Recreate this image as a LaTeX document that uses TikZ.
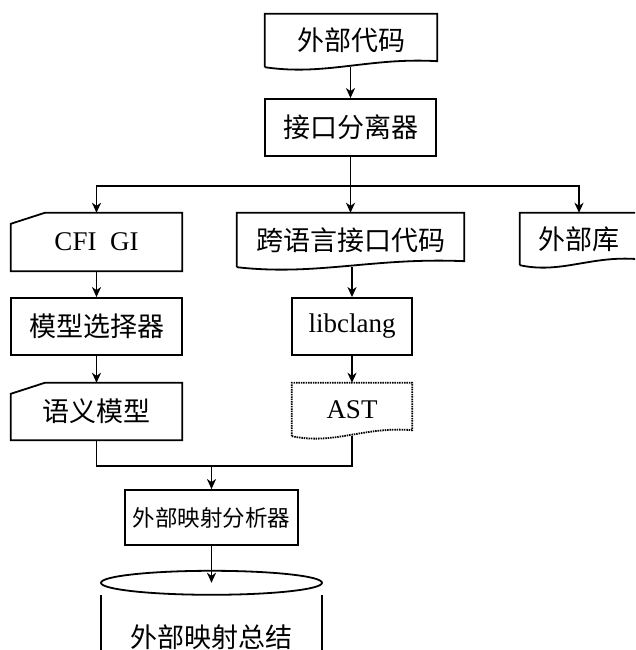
\documentclass[tikz,border=0pt]{standalone}
\usepackage{fontspec}
\setmainfont{Liberation Serif}
\newfontfamily\cjk{Noto Sans CJK SC}
\usetikzlibrary{arrows.meta,calc}
\tikzset{
  box/.style={inner sep=0pt, font=\fontsize{27}{32}\selectfont},
  ln/.style={line width=1.8pt},
  arr/.style={ln, -{Stealth[length=10pt,width=9pt,inset=3pt]}}
}
\newcommand\docshape[2][]{%
  \draw[ln,#1] let \p1=(#2.south west), \p2=(#2.north east) in
    (\p1) -- (\x1,\y2) -- (\p2) -- (\x2,{\y1+6pt})
    .. controls ({\x1+0.6*(\x2-\x1)},{\y1+10pt}) and ({\x1+0.35*(\x2-\x1)},{\y1-9pt}) .. (\p1);}
\newcommand\manualshape[1]{%
  \draw[ln] let \p1=(#1.south west), \p2=(#1.north east) in
    (\p1) -- (\x1,{\y2-11pt}) -- ({\x1+34pt},\y2) -- (\p2) -- (\x2,\y1) -- cycle;}
\begin{document}
\begin{tikzpicture}[x=1pt,y=1pt]
\useasboundingbox (0,0) rectangle (635,650);
\clip (0,0) rectangle (635,650);
% nodes
\node[box, minimum width=172pt, minimum height=53pt] (code) at (351,609.5) {\cjk 外部代码};
\node[box, minimum width=171pt, minimum height=57pt, draw, ln] (sep) at (350.5,522.5) {\cjk 接口分离器};
\node[box, minimum width=171pt, minimum height=58pt] (cfi) at (96.5,408) {CFI\ \ GI};
\node[box, minimum width=227pt, minimum height=54pt] (cross) at (350.5,410) {\cjk 跨语言接口代码};
\node[box, minimum width=118pt, minimum height=52pt] (lib) at (579,411) {\cjk 外部库};
\node[box, minimum width=171pt, minimum height=57pt, draw, ln] (sel) at (96.5,323.5) {\cjk 模型选择器};
\node[box, minimum width=120pt, minimum height=57pt, draw, ln] (libclang) at (352,323.5) {libclang};
\node[box, minimum width=171pt, minimum height=57pt] (sem) at (96.5,238.5) {\cjk 语义模型};
\node[box, minimum width=120pt, minimum height=53pt] (ast) at (352,240.5) {AST};
\node[box, minimum width=173pt, minimum height=55pt, draw, ln, font=\fontsize{22.5}{27}\selectfont] (ana) at (211.5,132.5) {\cjk 外部映射分析器};
\node[box, minimum width=221pt, minimum height=108pt] (sum) at (211.5,13) {\cjk 外部映射总结};
% shapes
\docshape{code}
\docshape{cross}
\docshape{lib}
\docshape[dash pattern=on 1.5pt off 0.9pt]{ast}
\manualshape{cfi}
\manualshape{sem}
\draw[ln] (sum.north) ellipse [x radius=110.5pt, y radius=12pt];
\draw[ln] ($(sum.north)+(-110.5,-12)$) -- ++(0,-120);
\draw[ln] ($(sum.north)+(110.5,-12)$) -- ++(0,-120);
% connectors
\coordinate (br) at (350.5,464);
\coordinate (mg) at (211.5,184);
\draw[arr] (code.south -| sep.north) -- (sep.north);
\draw[ln] (sep.south) -- (br);
\draw[arr] (br) -| (cfi.north);
\draw[arr] (br) -| (lib.north);
\draw[arr] (br) -- (cross.north);
\draw[arr] (cfi.south) -- (sel.north);
\draw[arr] (sel.south) -- (sem.north);
\draw[arr] (cross.south -| libclang.north) -- (libclang.north);
\draw[arr] (libclang.south) -- (ast.north);
\draw[ln] (sem.south) |- (mg);
\draw[ln] (ast.south) |- (mg);
\draw[arr] (mg) -- (ana.north);
\draw[arr] (ana.south) -- (sum.north);
\end{tikzpicture}
\end{document}
